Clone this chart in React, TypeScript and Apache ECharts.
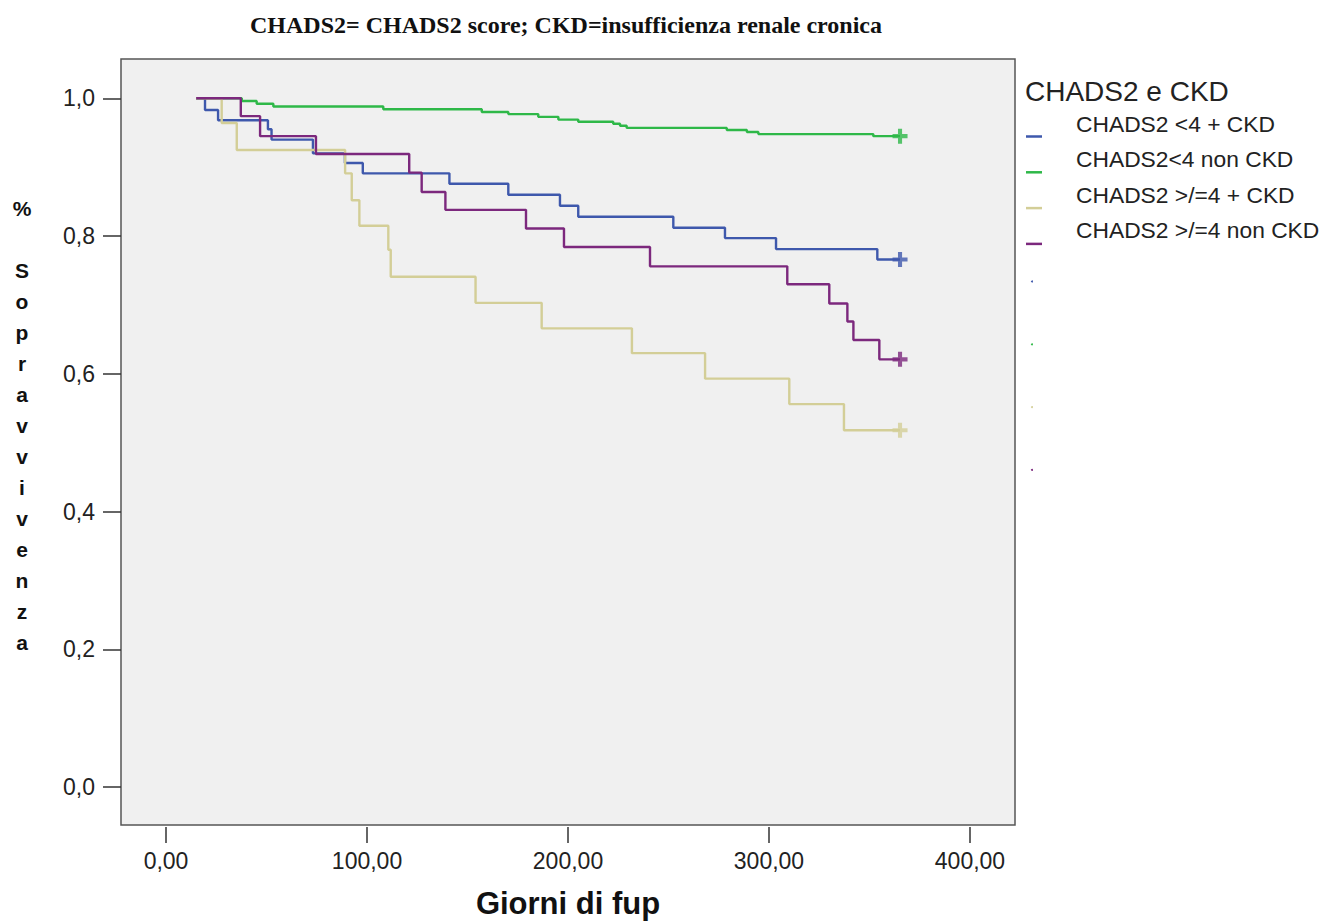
import React, { useEffect, useRef } from "react";
import * as echarts from "echarts";

const xTicks = [0, 100, 200, 300, 400];
const yTicks = [0, 0.2, 0.4, 0.6, 0.8, 1.0];

const groupNames = [
  "CHADS2 <4 + CKD",
  "CHADS2<4 non CKD",
  "CHADS2 >/=4 + CKD",
  "CHADS2 >/=4 non CKD",
];
const groupColors = ["#3E58AC", "#2EB848", "#D3CE97", "#7C287D"];

const blueDays = [15, 19.4, 25.9, 50.7, 52.5, 73.1, 89, 97.9, 141, 170.3, 196, 205.1, 252.4, 278.1, 303.5, 353.9, 365.2];
const blueSurv = [1, 0.983, 0.968, 0.955, 0.94, 0.92, 0.906, 0.891, 0.876, 0.86, 0.844, 0.828, 0.812, 0.797, 0.781, 0.766, 0.766];

const greenDays = [15, 37.7, 45.1, 53.4, 108.1, 157.1, 170.3, 185.2, 195.2, 205.1, 222.5, 225.9, 229.2, 279, 289, 294.7, 351.9, 365.2];
const greenSurv = [1, 0.996, 0.992, 0.988, 0.984, 0.98, 0.977, 0.973, 0.969, 0.966, 0.963, 0.96, 0.957, 0.954, 0.951, 0.948, 0.945, 0.945];

const yellowDays = [15, 27.7, 35.2, 89.1, 92.4, 96.2, 110.6, 111.8, 154, 186.9, 231.8, 268.2, 310.1, 337.3, 365.2];
const yellowSurv = [1, 0.964, 0.925, 0.891, 0.852, 0.815, 0.78, 0.741, 0.703, 0.666, 0.63, 0.593, 0.556, 0.518, 0.518];

const purpleDays = [15, 37.2, 46.8, 74.6, 121, 127.2, 139, 179.1, 198, 240.8, 309.1, 330, 339, 342, 354.9, 365.2];
const purpleSurv = [1, 0.974, 0.945, 0.919, 0.892, 0.864, 0.838, 0.811, 0.784, 0.756, 0.73, 0.702, 0.676, 0.649, 0.621, 0.621];

const censorDays = [365.2, 365.2, 365.2, 365.2];
const censorSurv = [0.766, 0.945, 0.518, 0.621];

const subtitle = "CHADS2= CHADS2 score; CKD=insufficienza renale cronica";
const legendTitle = "CHADS2 e CKD";
const xName = "Giorni di fup";
const yName = "%\n\nS\no\np\nr\na\nv\nv\ni\nv\ne\nn\nz\na";

const curves = [
  [blueDays, blueSurv],
  [greenDays, greenSurv],
  [yellowDays, yellowSurv],
  [purpleDays, purpleSurv],
];

const plusPath = "path://M4,0H7V4H11V7H7V11H4V7H0V4H4Z";
const SANS = "'Liberation Sans', Arial, sans-serif";
const SERIF = "'Liberation Serif', 'Times New Roman', serif";

export default function App() {
  const ref = useRef<HTMLDivElement>(null);
  useEffect(() => {
    if (!ref.current) return;
    const chart = echarts.init(ref.current, null, { renderer: "svg" });

    const lineSeries = curves.map(([d, s], i) => ({
      type: "line",
      name: groupNames[i],
      step: "end",
      showSymbol: false,
      symbol: "none",
      data: d.map((x, k) => [x, s[k]]),
      lineStyle: { color: groupColors[i], width: 2.4 },
      itemStyle: { color: groupColors[i] },
      z: 3,
    }));
    const censorSeries = censorDays.map((x, i) => ({
      type: "scatter",
      name: groupNames[i] + " censored",
      symbol: plusPath,
      symbolSize: 15,
      data: [[x, censorSurv[i]]],
      itemStyle: { color: groupColors[i] },
      z: 4,
    }));

    const legendGraphics: any[] = [
      {
        type: "text",
        x: 1025,
        y: 91,
        style: { text: legendTitle, font: `28px ${SANS}`, fill: "#222", textAlign: "left", textVerticalAlign: "middle" },
      },
    ];
    groupNames.forEach((n, i) => {
      legendGraphics.push({
        type: "line",
        shape: { x1: 1026, y1: 136.5 + 35.8 * i, x2: 1042, y2: 136.5 + 35.8 * i },
        style: { stroke: groupColors[i], lineWidth: 2.5 },
      });
      legendGraphics.push({
        type: "text",
        x: 1076,
        y: 123.5 + 35.6 * i,
        style: { text: n, font: `22.8px ${SANS}`, fill: "#222", textAlign: "left", textVerticalAlign: "middle" },
      });
      legendGraphics.push({
        type: "circle",
        shape: { cx: 1032, cy: 281.5 + 62.8 * i, r: 1 },
        style: { fill: groupColors[i] },
      });
    });

    chart.setOption({
      animation: false,
      backgroundColor: "#ffffff",
      grid: {
        left: 121,
        top: 59,
        width: 894,
        height: 766,
        show: true,
        backgroundColor: "#f0f0f0",
        borderColor: "#555555",
        borderWidth: 1.5,
      },
      xAxis: {
        type: "value",
        min: -22.4,
        max: 422.4,
        position: "bottom",
        offset: 2,
        axisLine: { show: false, onZero: false },
        splitLine: { show: false },
        axisTick: { show: true, customValues: xTicks, length: 16, lineStyle: { color: "#333", width: 1.5 } },
        axisLabel: {
          customValues: xTicks,
          formatter: (v: number) => v.toFixed(2).replace(".", ","),
          fontSize: 23,
          fontFamily: SANS,
          color: "#222",
          margin: 22,
        },
      },
      yAxis: {
        type: "value",
        min: -0.055,
        max: 1.057,
        position: "left",
        axisLine: { show: false, onZero: false },
        splitLine: { show: false },
        axisTick: { show: true, customValues: yTicks, length: 18, lineStyle: { color: "#333", width: 1.5 } },
        axisLabel: {
          customValues: yTicks,
          formatter: (v: number) => v.toFixed(1).replace(".", ","),
          fontSize: 23,
          fontFamily: SANS,
          color: "#222",
          margin: 26,
        },
      },
      series: [...lineSeries, ...censorSeries],
      graphic: [
        {
          type: "text",
          x: 566,
          y: 25,
          style: { text: subtitle, font: `bold 24px ${SERIF}`, fill: "#111", textAlign: "center", textVerticalAlign: "middle" },
        },
        {
          type: "text",
          x: 568,
          y: 903,
          style: { text: xName, font: `bold 31px ${SANS}`, fill: "#111", textAlign: "center", textVerticalAlign: "middle" },
        },
        {
          type: "text",
          x: 22,
          y: 192.5,
          style: { text: yName, font: `bold 21px ${SANS}`, lineHeight: 31, fill: "#111", textAlign: "center", textVerticalAlign: "top" },
        },
        ...legendGraphics,
      ],
    });
    return () => chart.dispose();
  }, []);
  return <div ref={ref} style={{ position: "absolute", left: 0, top: 0, width: 1322, height: 922 }} />;
}
